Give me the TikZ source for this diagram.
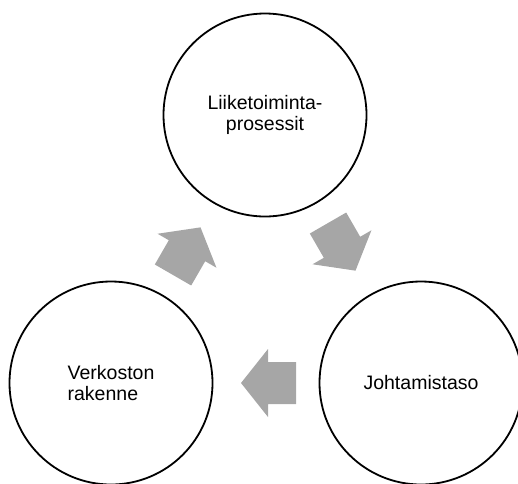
\documentclass[tikz,border=0pt]{standalone}
\usepackage{fontspec}
\setmainfont{Liberation Sans}
\usetikzlibrary{calc}
\definecolor{arrowgray}{HTML}{A6A6A6}
\tikzset{
  stage/.style={circle, draw=black, line width=1.8pt, minimum size=203pt,
    inner sep=0pt, font=\fontsize{19.5}{21}\selectfont, text=black},
  flowarrow/.style={fill=arrowgray, draw=none},
}
% block arrow pointing along +x, centred on the origin of its scope
\newcommand{\blockarrow}{%
  \fill[flowarrow] (25pt,0pt) -- (-2pt,34pt) -- (-2pt,21pt) -- (-30pt,21pt)
    -- (-30pt,-21pt) -- (-2pt,-21pt) -- (-2pt,-34pt) -- cycle;}
\begin{document}
\begin{tikzpicture}[x=1pt, y=-1pt]
  \useasboundingbox (0,0) rectangle (518,483);
  \clip (0,0) rectangle (518,483);

  \node[stage, align=center] (top) at (265,115) {Liiketoiminta-\\prosessit};
  \node[stage, align=left] (lft) at (111,383) {Verkoston\\rakenne};
  \node[stage] (rgt) at (421,383) {Johtamistaso};

  % cycle arrows between the stages
  \begin{scope}[shift={($(top)!0.5!(rgt)$)}, rotate=-60]
    \blockarrow
  \end{scope}
  \begin{scope}[shift={($(rgt)!0.5!(lft)$)}, rotate=180]
    \blockarrow
  \end{scope}
  \begin{scope}[shift={($(lft)!0.5!(top)$)}, rotate=60]
    \blockarrow
  \end{scope}
\end{tikzpicture}
\end{document}
